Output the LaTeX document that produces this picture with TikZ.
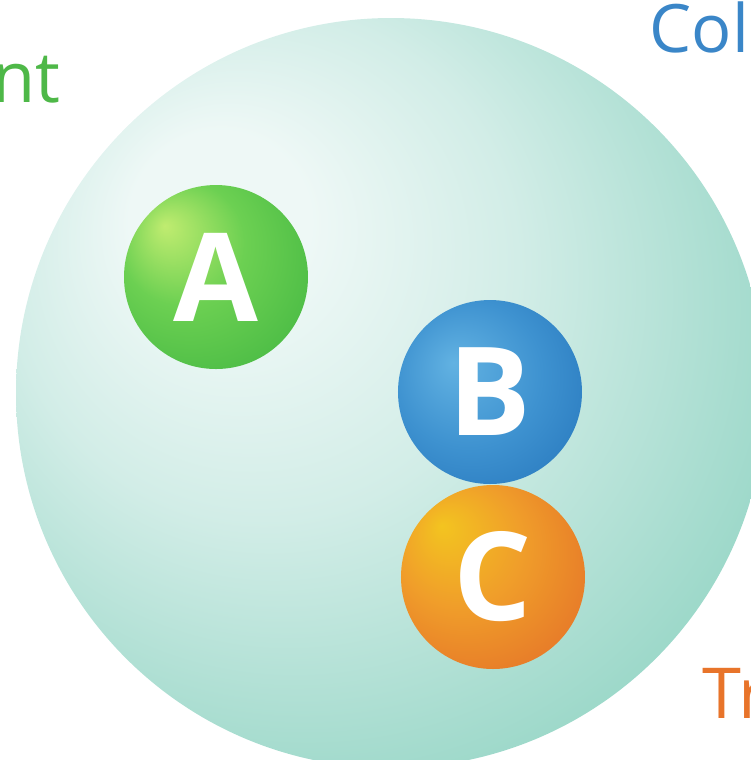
\documentclass[tikz,border=0pt]{standalone}
\usepackage{fontspec}
\setmainfont{Open Sans}
\usetikzlibrary{positioning}

\definecolor{sphin}{RGB}{238,248,246}
\definecolor{sphmid}{RGB}{210,237,231}
\definecolor{sphout}{RGB}{156,216,201}
\definecolor{sphrim}{RGB}{134,207,190}
\definecolor{agreenhi}{RGB}{192,236,112}
\definecolor{agreen}{RGB}{108,208,82}
\definecolor{agreenlo}{RGB}{72,186,68}
\definecolor{bbluehi}{RGB}{98,178,226}
\definecolor{bblue}{RGB}{62,146,208}
\definecolor{bbluelo}{RGB}{38,118,188}
\definecolor{corangehi}{RGB}{243,196,32}
\definecolor{corange}{RGB}{240,158,42}
\definecolor{corangelo}{RGB}{228,112,40}
\definecolor{txtgreen}{RGB}{78,184,72}
\definecolor{txtblue}{RGB}{58,134,200}
\definecolor{txtorange}{RGB}{232,116,42}

\pgfdeclareradialshading{cellshade}{\pgfpoint{-13bp}{13bp}}{color(0bp)=(sphin); color(6bp)=(sphin); color(17bp)=(sphmid); color(32bp)=(sphout); color(50bp)=(sphrim)}
\pgfdeclareradialshading{ashade}{\pgfpoint{-14bp}{14bp}}{color(0bp)=(agreenhi); color(17bp)=(agreen); color(36bp)=(agreenlo); color(50bp)=(agreenlo)}
\pgfdeclareradialshading{bshade}{\pgfpoint{-10bp}{8bp}}{color(0bp)=(bbluehi); color(20bp)=(bblue); color(38bp)=(bbluelo); color(50bp)=(bbluelo)}
\pgfdeclareradialshading{cshade}{\pgfpoint{-14bp}{14bp}}{color(0bp)=(corangehi); color(17bp)=(corange); color(38bp)=(corangelo); color(50bp)=(corangelo)}

\begin{document}
\begin{tikzpicture}[x=0.1mm,y=-0.1mm,
                    ball/.style = {circle,minimum size=18.4mm,inner sep=0pt,
                                   text=white,font=\fontsize{35}{35}\selectfont\bfseries},
                    word/.style = {inner sep=0pt,font=\fontsize{20}{20}\selectfont}]
                    \useasboundingbox (0,0) rectangle (751,760);
                    \clip (0,0) rectangle (751,760);

                    \node[circle,minimum size=75mm,inner sep=0pt,shading=cellshade] (cell) at (391,393) {};

                    \node[ball,shading=ashade] (a) at (216,277) {A};
                    \node[ball,shading=bshade] (b) at (490,392) {B};
                    \node[ball,shading=cshade] (c) at (493,577) {C};

                    \node[word,text=txtgreen,anchor=base east] (agent) at (61,102) {nt};
                    \node[word,text=txtblue,anchor=base west,font=\fontsize{19}{19}\selectfont] (colo) at (649,52) {Colo};
                    \node[word,text=txtorange,anchor=base west] (tr) at (702,718) {Tr};
                \end{tikzpicture}
\end{document}
